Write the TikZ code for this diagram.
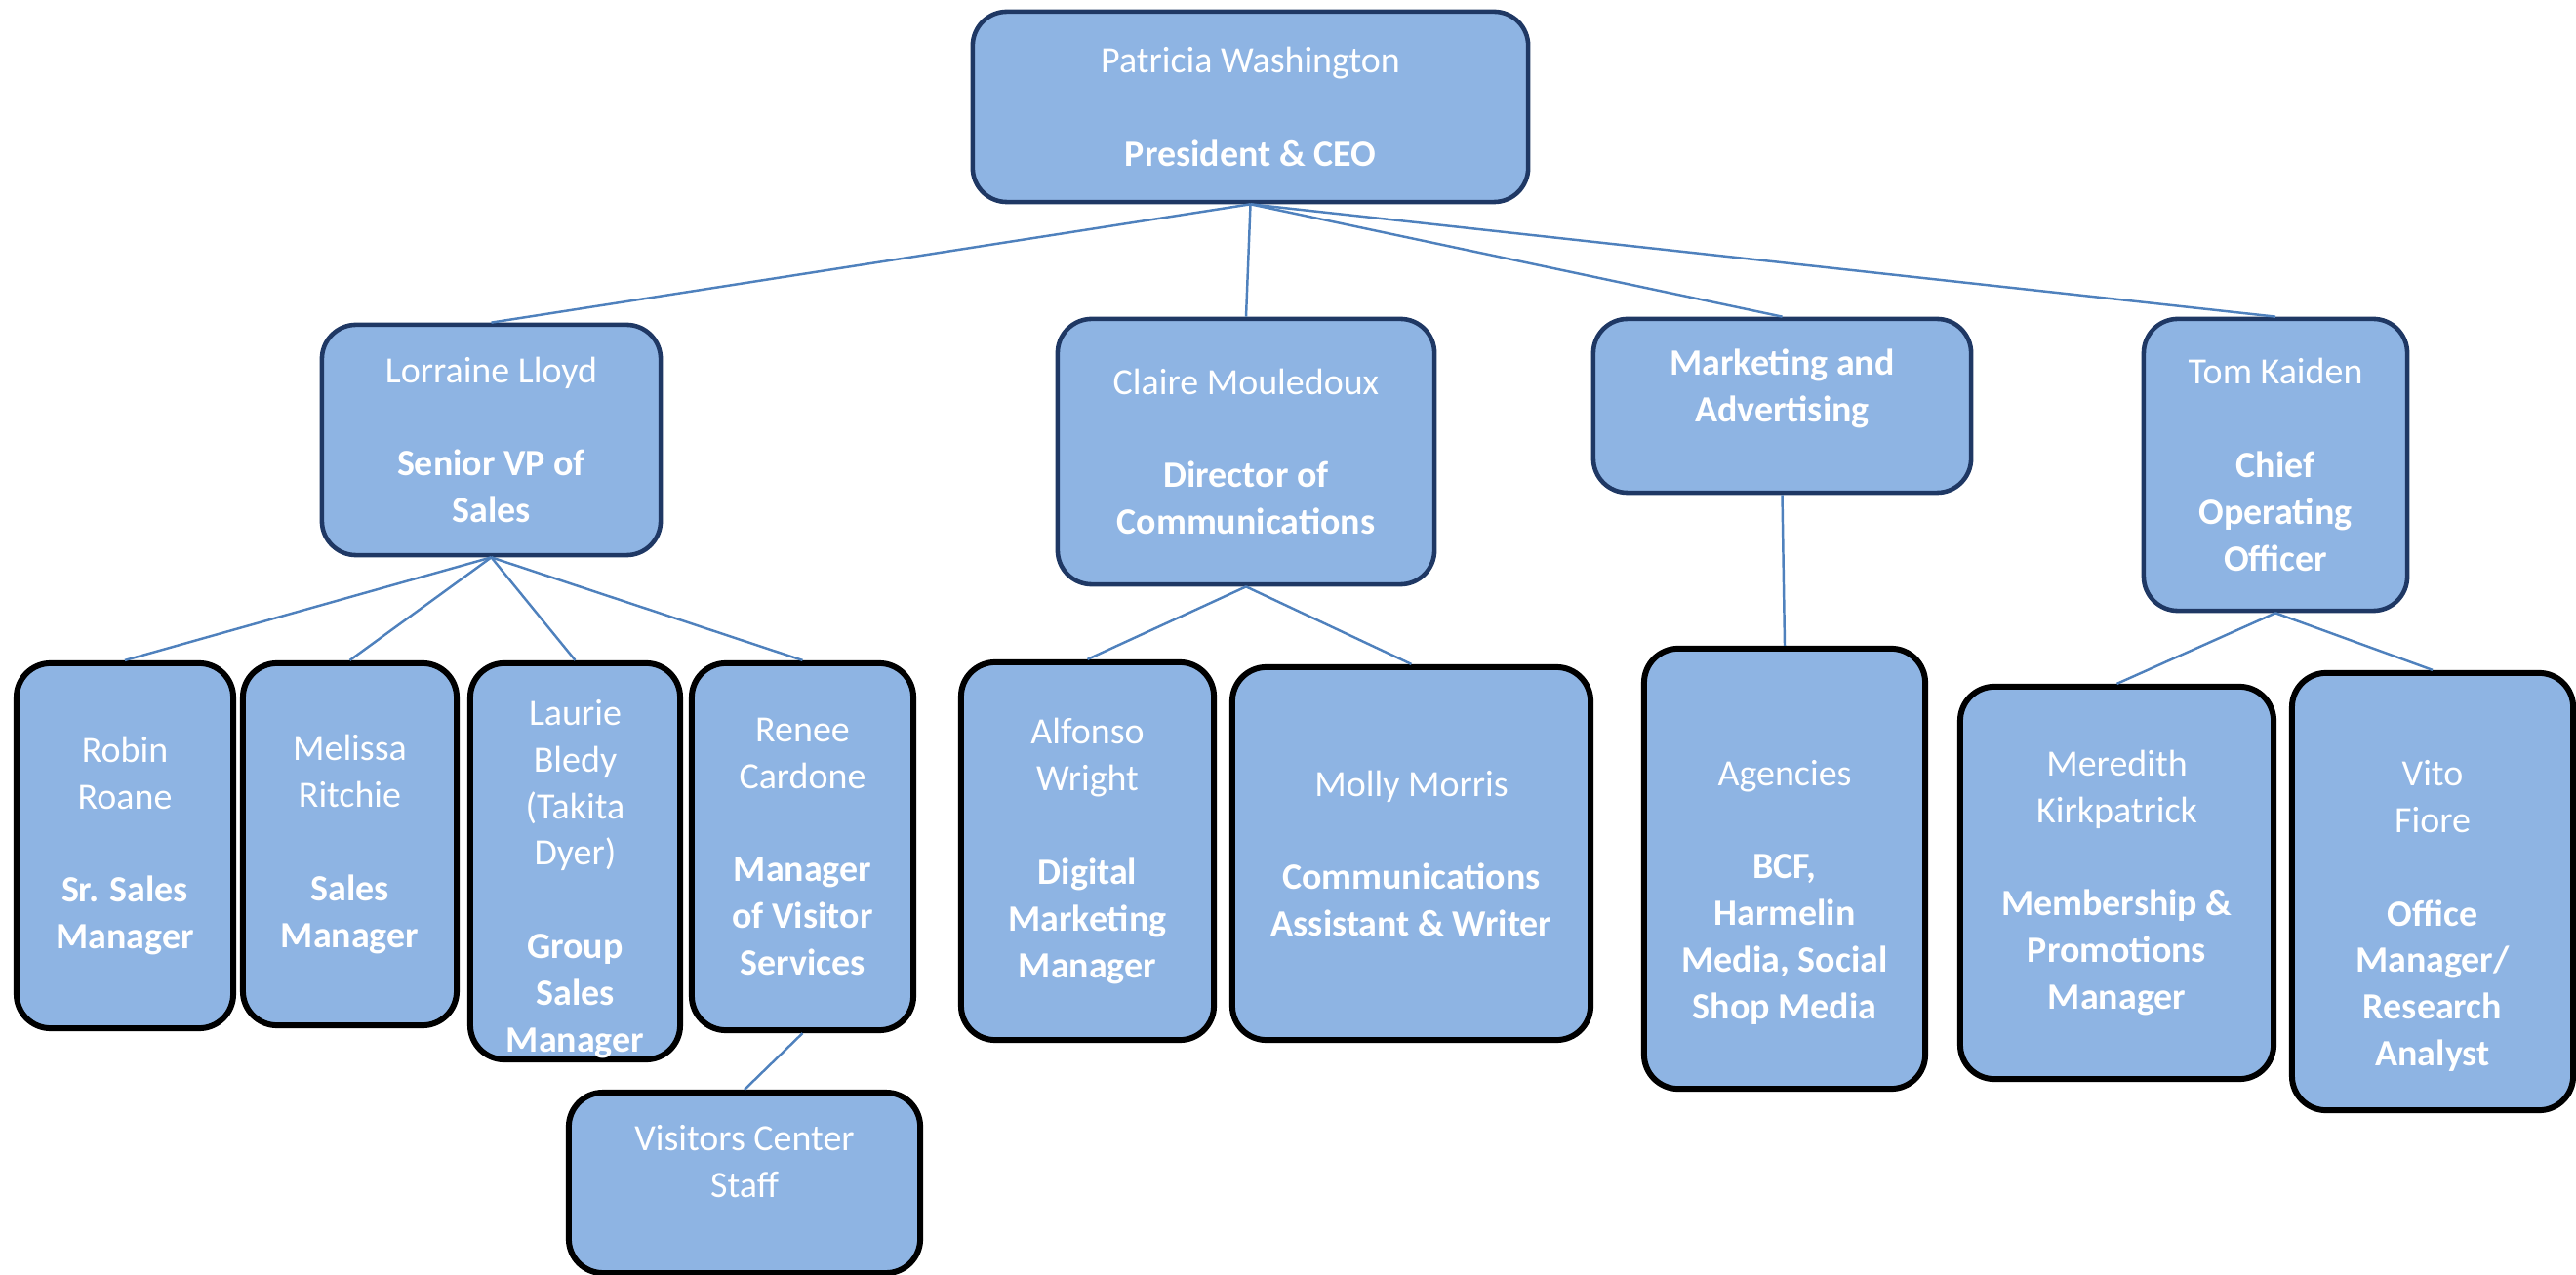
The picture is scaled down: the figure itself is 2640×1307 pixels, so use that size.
\documentclass[tikz,border=0pt]{standalone}
\usepackage{fontspec}
\setmainfont{Carlito}
\usepackage{tikz}
\usetikzlibrary{positioning}

\definecolor{boxfill}{HTML}{8EB4E3}
\definecolor{navyline}{HTML}{1F3864}
\definecolor{linkblue}{HTML}{4F81BD}

\tikzset{
    boxtext/.style={text=white, align=center, inner sep=0pt,
        font=\fontsize{10.8}{13.6}\selectfont},
    orgbox/.style={boxtext, rectangle, rounded corners=0.35cm, fill=boxfill},
    headbox/.style={orgbox, draw=navyline, line width=1.3pt},
    staffbox/.style={orgbox, draw=black, line width=1.7pt},
    link/.style={draw=linkblue, line width=0.7pt},
}

\begin{document}
\begin{tikzpicture}[x=0.01cm, y=-0.01cm]
    \useasboundingbox (0,0) rectangle (2640,1307);

    % top of the tree
    \node [headbox, minimum width=5.69cm, minimum height=1.95cm] (ceo) at (1281.5,109.5)
        {Patricia Washington\\ \\ \textbf{President \& CEO}};

    % second row
    \node [headbox, minimum width=3.47cm, minimum height=2.36cm] (lloyd) at (503.5,451)
        {Lorraine Lloyd\\ \\ \textbf{Senior VP of}\\ \textbf{Sales}};
    \node [headbox, minimum width=3.86cm, minimum height=2.72cm] (mouledoux) at (1277,463)
        {Claire Mouledoux\\ \\ \textbf{Director of}\\ \textbf{Communications}};
    \node [headbox, minimum width=3.87cm, minimum height=1.78cm,
        label={[boxtext, yshift=0.18cm]center:{\textbf{Marketing and}\\ \textbf{Advertising}}}]
        (marketing) at (1826.5,416) {};
    \node [headbox, minimum width=2.70cm, minimum height=2.99cm] (kaiden) at (2332,476.5)
        {Tom Kaiden\\ \\ \textbf{Chief}\\ \textbf{Operating}\\ \textbf{Officer}};

    % third row
    \node [staffbox, minimum width=2.22cm, minimum height=3.74cm] (roane) at (128,867)
        {Robin\\ Roane\\ \\ \textbf{Sr. Sales}\\ \textbf{Manager}};
    \node [staffbox, minimum width=2.19cm, minimum height=3.71cm] (ritchie) at (358.5,865.5)
        {Melissa\\ Ritchie\\ \\ \textbf{Sales}\\ \textbf{Manager}};
    \node [staffbox, minimum width=2.15cm, minimum height=4.06cm,
        label={[boxtext, yshift=-0.18cm]center:{Laurie\\ Bledy\\ (Takita\\ Dyer)\\ \\ \textbf{Group}\\ \textbf{Sales}\\ \textbf{Manager}}}]
        (bledy) at (589.5,883) {};
    \node [staffbox, minimum width=2.27cm, minimum height=3.76cm] (cardone) at (822.5,868)
        {Renee\\ Cardone\\ \\ \textbf{Manager}\\ \textbf{of Visitor}\\ \textbf{Services}};
    \node [staffbox, minimum width=3.60cm, minimum height=1.85cm,
        label={[boxtext, yshift=0.22cm]center:{Visitors Center\\ Staff}}]
        (visitors) at (763,1212.5) {};

    \node [staffbox, minimum width=2.59cm, minimum height=3.87cm] (wright) at (1114.5,872.5)
        {Alfonso\\ Wright\\ \\ \textbf{Digital}\\ \textbf{Marketing}\\ \textbf{Manager}};
    \node [staffbox, minimum width=3.67cm, minimum height=3.82cm] (morris) at (1446.5,875)
        {Molly Morris\\ \\ \textbf{Communications}\\ \textbf{Assistant \& Writer}};

    \node [staffbox, minimum width=2.88cm, minimum height=4.51cm,
        label={[boxtext, yshift=-0.24cm]center:{Agencies\\ \\ \textbf{BCF,}\\ \textbf{Harmelin}\\ \textbf{Media, Social}\\ \textbf{Shop Media}}}]
        (agencies) at (1829,890.5) {};

    \node [staffbox, minimum width=3.21cm, minimum height=4.02cm] (kirkpatrick) at (2169.5,905)
        {Meredith\\ Kirkpatrick\\ \\ \textbf{Membership \&}\\ \textbf{Promotions}\\ \textbf{Manager}};
    \node [staffbox, minimum width=2.88cm, minimum height=4.48cm,
        label={[boxtext, yshift=-0.25cm]center:{Vito\\ Fiore\\ \\ \textbf{Office}\\ \textbf{Manager/}\\ \textbf{Research}\\ \textbf{Analyst}}}]
        (fiore) at (2493,914) {};

    % reporting lines
    \foreach \boss/\staff in {ceo/lloyd, ceo/mouledoux, ceo/marketing, ceo/kaiden,
        lloyd/roane, lloyd/ritchie, lloyd/bledy, lloyd/cardone, cardone/visitors,
        mouledoux/wright, mouledoux/morris, marketing/agencies,
        kaiden/kirkpatrick, kaiden/fiore}
        \draw [link] (\boss.south) -- (\staff.north);

\end{tikzpicture}
\end{document}
